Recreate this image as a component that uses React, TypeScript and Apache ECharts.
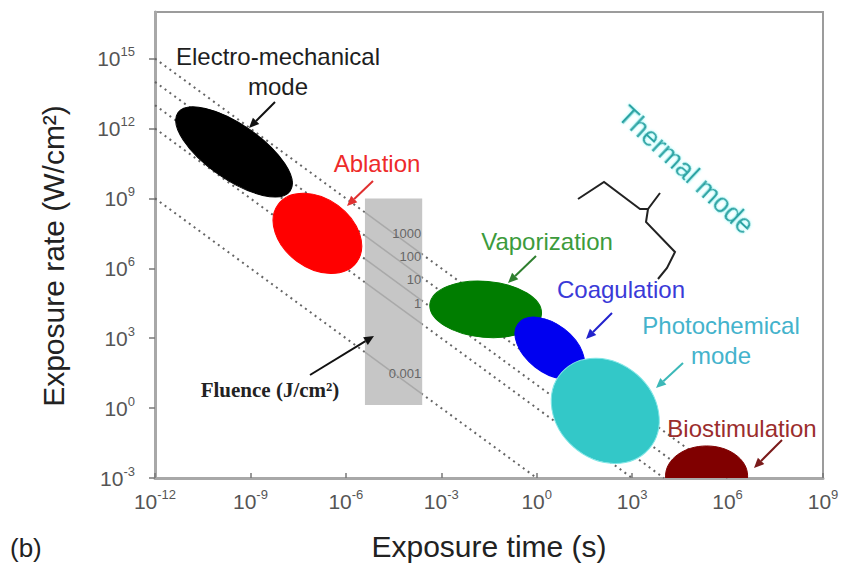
import React, { useEffect, useRef } from 'react';
import * as echarts from 'echarts';

// ---- data (log10 units: exposure time in s, exposure rate in W/cm2) ----
const xTicks = [-12, -9, -6, -3, 0, 3, 6, 9];
const yTicks = [-3, 0, 3, 6, 9, 12, 15];
const fluenceValues = [1000, 100, 10, 1, 0.001]; // J/cm2, constant-fluence lines
const fluenceLabels = ['1000', '100', '10', '1', '0.001'];
const fluenceBoxTime = [-5.4, -3.6];
const fluenceBoxRate = [0.13, 9.0];

const regionNames = ['Electro-mechanical mode', 'Ablation', 'Vaporization', 'Coagulation', 'Photochemical mode', 'Biostimulation'];
// major axis of each region: start and end points
const regionTimeStart = [-11.28, -8.13, -3.36, -0.58, 0.78, 4.05];
const regionRateStart = [12.67, 8.74, 4.45, 3.63, 1.52, -2.91];
const regionTimeEnd = [-7.75, -5.66, 0.15, 1.4, 3.53, 6.63];
const regionRateEnd = [9.32, 6.26, 4.03, 1.52, -1.75, -2.91];
const regionWidthRatio = [0.4, 0.71, 0.5, 0.6, 0.83, 0.73];
const regionColors = ['#000000', '#ff0000', '#007d00', '#0000f0', '#33c8c8', '#800000'];

const FONT = '"Liberation Sans", Arial, Helvetica, sans-serif';
const SERIF = '"Liberation Serif", "Times New Roman", serif';

function arrow(x1: number, y1: number, x2: number, y2: number, color: string) {
  const dx = x2 - x1, dy = y2 - y1;
  const len = Math.hypot(dx, dy);
  const ux = dx / len, uy = dy / len;
  const hl = 10, hw = 4.5;
  const bx = x2 - ux * hl, by = y2 - uy * hl;
  return [
    { type: 'line', z: 100, shape: { x1, y1, x2: bx, y2: by }, style: { stroke: color, lineWidth: 2 } },
    {
      type: 'polygon', z: 100,
      shape: { points: [[x2, y2], [bx - uy * hw, by + ux * hw], [bx + uy * hw, by - ux * hw]] },
      style: { fill: color },
    },
  ];
}

function label(text: string, x: number, y: number, color: string, size = 24, extra: any = {}, rotation = 0) {
  return {
    type: 'text', z: 100, x, y, rotation,
    style: {
      text, fill: color, fontSize: size, fontFamily: FONT,
      align: 'center', verticalAlign: 'middle', textAlign: 'center', textVerticalAlign: 'middle',
      lineHeight: 30, ...extra,
    },
  };
}

const supFmt = (v: number) => `{b|10}{s|${v}}`;
const tickRich = {
  b: { fontSize: 21, color: '#555', fontFamily: FONT },
  s: { fontSize: 13, color: '#555', fontFamily: FONT, padding: [0, 0, 14, 0] },
};

export default function App() {
  const ref = useRef<HTMLDivElement>(null);
  useEffect(() => {
    document.body.style.margin = '0';
    const chart = echarts.init(ref.current!, null, { renderer: 'svg', width: 850, height: 566 });

    const regionData = regionNames.map((n, i) => ({
      name: n,
      value: [regionTimeStart[i], regionRateStart[i], regionTimeEnd[i], regionRateEnd[i], regionWidthRatio[i], i],
    }));

    const dottedSeries = fluenceValues.map((f) => {
      const lf = Math.log10(f);
      return {
        type: 'line', z: 1, silent: true, showSymbol: false, symbol: 'none',
        data: [[-12, lf + 12], [lf + 3, -3]],
        lineStyle: { color: '#666666', width: 2, type: [2, 4] },
      };
    });
    const innerSeries = fluenceValues.map((f) => {
      const lf = Math.log10(f);
      return {
        type: 'line', z: 3, silent: true, showSymbol: false, symbol: 'none',
        data: [[fluenceBoxTime[0], lf - fluenceBoxTime[0]], [fluenceBoxTime[1], lf - fluenceBoxTime[1]]],
        lineStyle: { color: '#a9a9a9', width: 1.5 },
      };
    });

    const option: any = {
      animation: false,
      backgroundColor: '#ffffff',
      grid: { left: 155, right: 27, top: 12, bottom: 88, show: true, borderColor: '#9c9c9c', borderWidth: 2 },
      xAxis: {
        type: 'value', min: -12, max: 9, interval: 3,
        name: 'Exposure time (s)', nameLocation: 'middle', nameGap: 53,
        nameTextStyle: { fontSize: 30, color: '#222', fontFamily: FONT },
        axisLine: { show: true, onZero: false, lineStyle: { color: '#a8a8a8', width: 3 } },
        axisTick: { show: true, inside: true, length: 5, lineStyle: { color: '#777', width: 1.5 } },
        splitLine: { show: false },
        axisLabel: { margin: 10, formatter: (v: number) => (v % 3 === 0 ? supFmt(v) : ''), rich: tickRich },
      },
      yAxis: {
        type: 'value', min: -3, max: 17, interval: 3,
        axisLine: { show: true, onZero: false, lineStyle: { color: '#a8a8a8', width: 3 } },
        axisTick: { show: true, inside: false, length: 6, customValues: yTicks, lineStyle: { color: '#777', width: 1.5 } },
        splitLine: { show: false },
        axisLabel: {
          margin: 20, customValues: yTicks,
          formatter: (v: number) => (v % 3 === 0 && v <= 15 ? supFmt(v) : ''), rich: tickRich,
        },
      },
      series: [
        ...dottedSeries,
        {
          type: 'custom', z: 2, silent: true,
          data: [[fluenceBoxTime[0], fluenceBoxRate[0], fluenceBoxTime[1], fluenceBoxRate[1]]],
          encode: { x: [0, 2], y: [1, 3] },
          renderItem: (params: any, api: any) => {
            const p1 = api.coord([api.value(0), api.value(3)]);
            const p2 = api.coord([api.value(2), api.value(1)]);
            return { type: 'rect', shape: { x: p1[0], y: p1[1], width: p2[0] - p1[0], height: p2[1] - p1[1] }, style: { fill: '#c6c6c6' } };
          },
        },
        ...innerSeries,
        {
          type: 'custom', z: 4, silent: true,
          data: fluenceValues.map((f, i) => ({ name: fluenceLabels[i], value: [fluenceBoxTime[1] - 0.03, Math.log10(f) + 4.5] })),
          renderItem: (params: any, api: any) => {
            const p = api.coord([api.value(0), api.value(1)]);
            return {
              type: 'text', x: p[0], y: p[1],
              style: { text: fluenceLabels[params.dataIndex], fill: '#666', fontSize: 13, fontFamily: FONT, align: 'right', verticalAlign: 'middle' },
            };
          },
        },
        {
          type: 'custom', z: 5, silent: true,
          data: regionData,
          encode: { x: [0, 2], y: [1, 3] },
          renderItem: (params: any, api: any) => {
            const p1 = api.coord([api.value(0), api.value(1)]);
            const p2 = api.coord([api.value(2), api.value(3)]);
            const cx = (p1[0] + p2[0]) / 2, cy = (p1[1] + p2[1]) / 2;
            const a = Math.hypot(p2[0] - p1[0], p2[1] - p1[1]) / 2;
            const b = a * api.value(4);
            const ang = Math.atan2(p2[1] - p1[1], p2[0] - p1[0]);
            const idx = api.value(5);
            const cs = params.coordSys;
            return {
              type: 'group',
              clipPath: { type: 'rect', shape: { x: cs.x, y: cs.y, width: cs.width, height: cs.height } },
              children: [
                {
                  type: 'ellipse', x: cx, y: cy, rotation: -ang,
                  shape: { cx: 0, cy: 0, rx: a, ry: b },
                  style: { fill: regionColors[idx], stroke: idx === 4 ? '#7fe6e6' : regionColors[idx], lineWidth: 1 },
                },
              ],
            };
          },
        },
      ],
      graphic: [
        label('Exposure rate (W/cm²)', 53, 256, '#222', 30, {}, Math.PI / 2),
        label('Electro-mechanical\nmode', 278, 71, '#1e1e1e'),
        ...arrow(275, 102, 249, 128, '#111'),
        label('Ablation', 377, 163, '#ee2a2a'),
        ...arrow(373, 181, 347, 206, '#e03030'),
        label('Vaporization', 547, 241, '#3c9b3c'),
        ...arrow(536, 256, 508, 283, '#2f7f2f'),
        label('Coagulation', 621, 289, '#3a3ad8'),
        ...arrow(612, 313, 586, 339, '#2222cc'),
        label('Photochemical\nmode', 721, 340, '#44b3cc'),
        ...arrow(683, 363, 656, 388, '#3cb8b8'),
        label('Biostimulation', 742, 428, '#9b2d2d'),
        ...arrow(782, 440, 754, 468, '#7a1a1a'),
        label('Thermal mode', 686, 170, '#2aa3a3', 27, { textShadowColor: 'rgba(140,255,255,0.9)', textShadowBlur: 3 }, -0.75),
        {
          type: 'polyline', z: 100,
          shape: { points: [[578, 199], [604, 182], [640, 209], [648, 209], [660, 193]] },
          style: { stroke: '#222', lineWidth: 2, fill: null },
        },
        {
          type: 'polyline', z: 100,
          shape: { points: [[648, 209], [646, 222], [675, 252], [667, 268], [658, 279]] },
          style: { stroke: '#222', lineWidth: 2, fill: null },
        },
        {
          type: 'text', z: 100, x: 270, y: 390,
          style: {
            text: 'Fluence (J/cm²)', fill: '#222', fontSize: 21, fontWeight: 'bold', fontFamily: SERIF,
            align: 'center', verticalAlign: 'middle', textAlign: 'center', textVerticalAlign: 'middle',
          },
        },
        ...arrow(310, 375, 374, 336, '#111'),
        {
          type: 'text', z: 100, x: 10, y: 548,
          style: { text: '(b)', fill: '#222', fontSize: 26, fontFamily: FONT, align: 'left', verticalAlign: 'middle', textAlign: 'left', textVerticalAlign: 'middle' },
        },
      ],
    };
    chart.setOption(option);
    return () => chart.dispose();
  }, []);
  return <div ref={ref} style={{ position: 'fixed', left: 0, top: 0, width: 850, height: 566, background: '#fff' }} />;
}
